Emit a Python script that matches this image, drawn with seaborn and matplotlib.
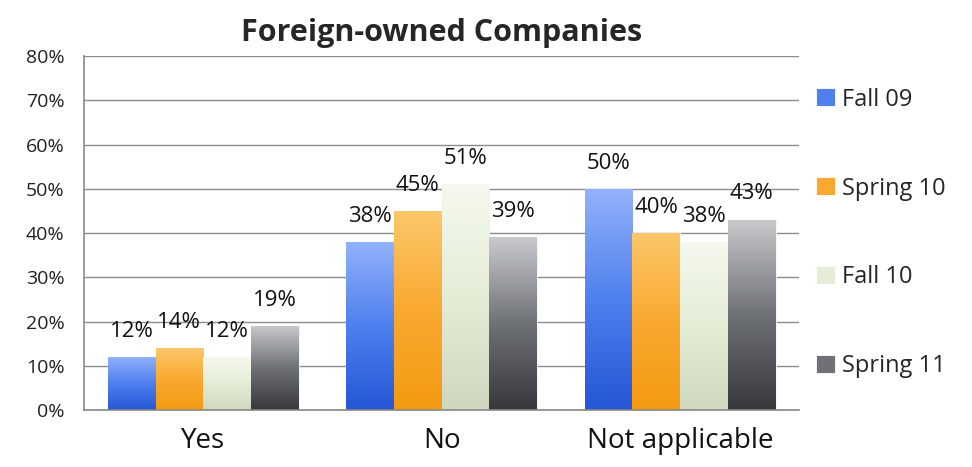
import matplotlib
matplotlib.use("Agg")
import matplotlib.pyplot as plt
import matplotlib.colors as mcolors
import seaborn as sns
import pandas as pd
import numpy as np

categories = ["Yes", "No", "Not applicable"]
series = ["Fall 09", "Spring 10", "Fall 10", "Spring 11"]
fall09 = [12, 38, 50]
spring10 = [14, 45, 40]
fall10 = [12, 51, 38]
spring11 = [19, 39, 43]
yticks = [0, 10, 20, 30, 40, 50, 60, 70, 80]
colors = ["#4f80ee", "#f9a930", "#e4edd6", "#6e7176"]
tops = ["#93b2fa", "#fcc76a", "#f5f9ee", "#c8cacd"]
bottoms = ["#2456d6", "#f49a12", "#cfd8bf", "#36383c"]

values = [fall09, spring10, fall10, spring11]
rows = []
for s, vals in zip(series, values):
    for c, v in zip(categories, vals):
        rows.append({"Category": c, "Series": s, "Value": v})
df = pd.DataFrame(rows)

sns.set_theme(style="white")
plt.rcParams['font.family'] = ['Open Sans', 'DejaVu Sans']

fig = plt.figure(figsize=(9.72, 4.67), dpi=100)
ax = fig.add_axes([0.0864, 0.122, 0.736, 0.758])

sns.barplot(data=df, x="Category", y="Value", hue="Series", palette=colors,
            saturation=1, width=0.8, gap=0.0, ax=ax, edgecolor="white",
            linewidth=0.6, legend=True)

ax.set_ylim(0, 80)
ax.set_xlim(-0.5, 2.5)

# vertical gradient fill inside each bar
for i, cont in enumerate(ax.containers):
    cmap = mcolors.LinearSegmentedColormap.from_list(f"g{i}", [bottoms[i], colors[i], tops[i]])
    grad = np.linspace(0, 1, 256).reshape(-1, 1)
    for patch in cont.patches:
        x0, y0 = patch.get_x(), patch.get_y()
        w, h = patch.get_width(), patch.get_height()
        im = ax.imshow(grad, cmap=cmap, origin="lower", aspect="auto",
                       extent=(x0, x0 + w, y0, y0 + h), zorder=patch.get_zorder() + 0.1)
        im.set_clip_path(patch)
    ax.bar_label(cont, labels=[f"{int(round(v))}%" for v in cont.datavalues],
                 padding=11, fontsize=16, color="#111111")

ax.set_ylim(0, 80)
ax.set_xlim(-0.5, 2.5)
ax.set_yticks(yticks)
ax.set_yticklabels([f"{t}%" for t in yticks], fontsize=14, color="#222222")
ax.set_xticks(range(3))
ax.set_xticklabels(categories, fontsize=20, color="#111111")
ax.tick_params(axis="x", length=0, pad=12)
ax.set_xticks([-0.5, 0.5, 1.5, 2.5], minor=True)
ax.tick_params(axis="x", which="minor", length=8, color="#888888", width=1)
ax.tick_params(axis="y", length=6, color="#888888", width=1, direction="out", pad=8)
ax.yaxis.grid(True, color="#8c8c8c", linewidth=1)
ax.set_axisbelow(True)
for sp in ["top", "right"]:
    ax.spines[sp].set_visible(False)
for sp in ["left", "bottom"]:
    ax.spines[sp].set_color("#888888")
    ax.spines[sp].set_linewidth(1.2)
ax.set_xlabel("")
ax.set_ylabel("")
ax.set_title("Foreign-owned Companies", fontsize=22, fontweight="bold", pad=11)

handles, labels = ax.get_legend_handles_labels()
ax.legend(handles, labels, loc="center left", bbox_to_anchor=(1.0, 0.5), frameon=False,
          fontsize=17, labelspacing=2.75, handlelength=0.8, handleheight=0.8,
          handletextpad=0.3, borderaxespad=0.3)

fig.savefig("out.png", dpi=100)
